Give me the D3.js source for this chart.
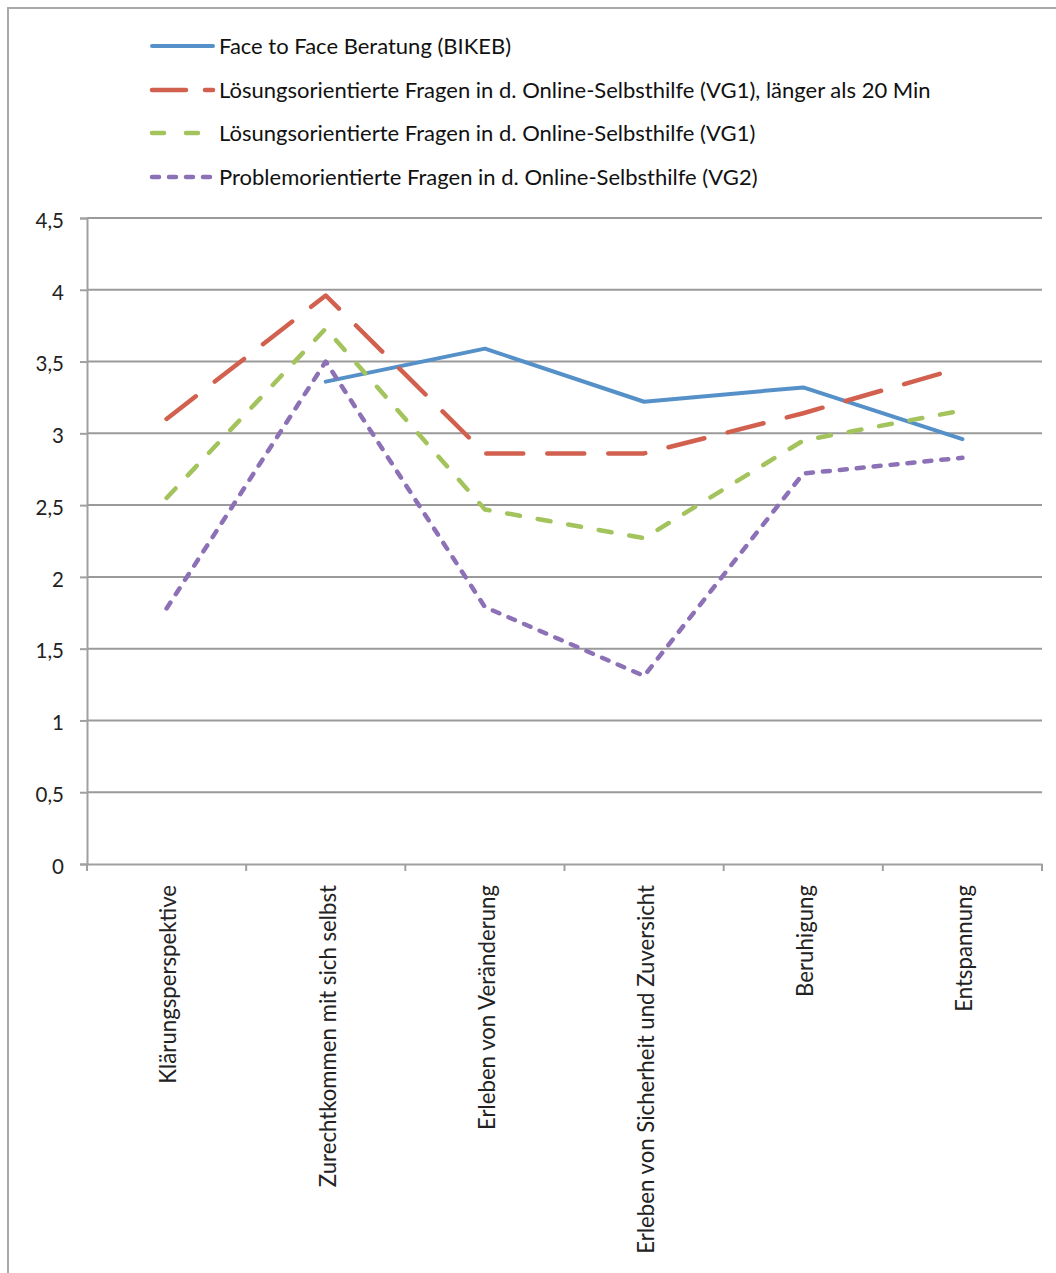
<!DOCTYPE html>
<html><head><meta charset="utf-8">
<script src="https://cdn.jsdelivr.net/npm/d3@7"></script>
<style>body{margin:0;background:#fff}svg{display:block}</style>
</head><body>
<script>
const categories = ["Klärungsperspektive","Zurechtkommen mit sich selbst","Erleben von Veränderung","Erleben von Sicherheit und Zuversicht","Beruhigung","Entspannung"];
const seriesNames = ["Face to Face Beratung (BIKEB)","Lösungsorientierte Fragen in d. Online-Selbsthilfe (VG1), länger als 20 Min","Lösungsorientierte Fragen in d. Online-Selbsthilfe (VG1)","Problemorientierte Fragen in d. Online-Selbsthilfe (VG2)"];
const bikeb = [null, 3.36, 3.59, 3.22, 3.32, 2.96];
const vg1Long = [3.10, 3.96, 2.86, 2.86, 3.14, 3.46];
const vg1 = [2.55, 3.73, 2.47, 2.27, 2.95, 3.16];
const vg2 = [1.78, 3.50, 1.79, 1.31, 2.72, 2.83];
const yTicks = [0,0.5,1,1.5,2,2.5,3,3.5,4,4.5];
const yTickLabels = ["0","0,5","1","1,5","2","2,5","3","3,5","4","4,5"];

const styles = [
  {color:"#5590C8", dash:null, legDash:null, w:4},
  {color:"#D2604F", dash:"37,24", legDash:"34,19", w:4.5},
  {color:"#A3C35C", dash:"13,18", legDash:"12,22", w:4.5},
  {color:"#8D71B6", dash:"7,10", legDash:"7,10", w:4.5}
];
const values = [bikeb, vg1Long, vg1, vg2];
const FONT = "Lato, 'Open Sans', sans-serif";

(function(){
const W = 1056, H = 1273;
const svg = d3.select("body").append("svg").attr("width", W).attr("height", H);

svg.append("path").attr("d", `M8,${H} L8,8 L${W},8`).attr("fill","none").attr("stroke","#aaa").attr("stroke-width",2);

const pl = 87, pr = 1042, pt = 218, pb = 864;
const x = d3.scaleBand().domain(categories).range([pl, pr]);
const y = d3.scaleLinear().domain([0, 4.5]).range([pb, pt]);

svg.append("g").selectAll("line").data(yTicks.filter(d=>d>0)).join("line")
  .attr("x1", pl).attr("x2", pr).attr("y1", d=>y(d)).attr("y2", d=>y(d))
  .attr("stroke","#9a9a9a").attr("stroke-width",2);

const yAxis = svg.append("g").attr("transform",`translate(${pl},0)`)
  .call(d3.axisLeft(y).tickValues(yTicks).tickFormat((d,i)=>yTickLabels[i]).tickSize(7).tickPadding(16));
yAxis.select(".domain").attr("stroke","#a0a0a0").attr("stroke-width",2);
yAxis.selectAll(".tick line").attr("stroke","#a0a0a0").attr("stroke-width",2);
yAxis.selectAll(".tick text").attr("font-family",FONT).attr("font-size",20.5).attr("fill","#222")
  .attr("dy","0.45em");

const xAxis = svg.append("g").attr("transform",`translate(0,${pb})`)
  .call(d3.axisBottom(x).tickSize(0).tickFormat(d=>d));
xAxis.select(".domain").attr("stroke","#a0a0a0").attr("stroke-width",2);
xAxis.selectAll(".tick line").remove();
xAxis.selectAll(".tick text")
  .attr("font-family",FONT).attr("font-size",22.2).attr("fill","#222")
  .attr("transform","rotate(-90)").attr("text-anchor","end")
  .attr("x",-21).attr("y",2).attr("dy","0.35em");
const bounds = categories.map(c=>x(c)).concat([pr]);
svg.append("g").selectAll("line").data(bounds).join("line")
  .attr("x1",d=>d).attr("x2",d=>d).attr("y1",pb).attr("y2",pb+7)
  .attr("stroke","#a0a0a0").attr("stroke-width",2);

const line = d3.line()
  .defined(d=>d.v!==null)
  .x(d=>x(d.c)+x.bandwidth()/2).y(d=>y(d.v));
values.forEach((vals,i)=>{
  const data = categories.map((c,j)=>({c, v:vals[j]}));
  svg.append("path").datum(data).attr("d", line)
    .attr("fill","none").attr("stroke",styles[i].color).attr("stroke-width",styles[i].w)
    .attr("stroke-linecap","round").attr("stroke-linejoin","round")
    .attr("stroke-dasharray",styles[i].dash);
});

const legY = [46, 90, 133, 177];
const lg = svg.append("g");
seriesNames.forEach((n,i)=>{
  lg.append("line").attr("x1",152).attr("x2",213).attr("y1",legY[i]).attr("y2",legY[i])
    .attr("stroke",styles[i].color).attr("stroke-width",styles[i].w)
    .attr("stroke-linecap","round").attr("stroke-dasharray",styles[i].legDash);
  lg.append("text").attr("x",219).attr("y",legY[i]).attr("dy","0.36em")
    .attr("font-family",FONT).attr("font-size",22).attr("fill","#111").text(n);
});
})();
</script>
</body></html>
